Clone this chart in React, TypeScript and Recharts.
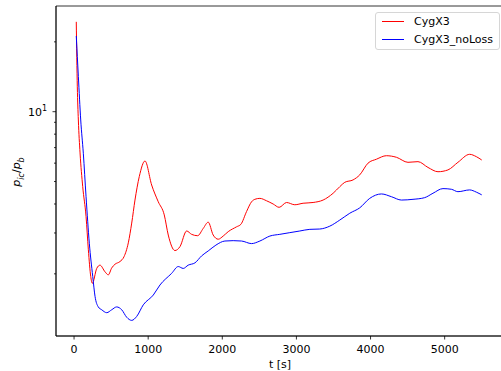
import { LineChart, Line, XAxis, YAxis, ReferenceArea } from "recharts";

// values (t in seconds, p_ic/p_b)
const redT = [30, 44, 58, 81, 117, 162, 193, 225, 247, 306, 350, 418, 462, 508, 553, 620, 674, 732, 778, 822, 880, 957, 1047, 1136, 1217, 1271, 1361, 1429, 1519, 1586, 1667, 1743, 1810, 1877, 1945, 2012, 2080, 2193, 2251, 2327, 2395, 2439, 2507, 2597, 2686, 2767, 2867, 2978, 3090, 3225, 3360, 3495, 3585, 3652, 3764, 3854, 3966, 4080, 4214, 4349, 4505, 4640, 4775, 4910, 5044, 5179, 5337, 5427, 5500];
const redV = [24.4, 12.8, 9.21, 6.64, 4.75, 3.53, 2.54, 1.95, 1.82, 2.11, 2.18, 2.04, 1.98, 2.12, 2.2, 2.26, 2.37, 2.72, 3.31, 4.16, 5.25, 6.13, 4.83, 4.09, 3.59, 2.94, 2.52, 2.62, 3.06, 2.96, 2.92, 3.14, 3.34, 2.94, 2.82, 2.91, 3.04, 3.19, 3.27, 3.71, 4.09, 4.19, 4.23, 4.13, 4.0, 3.87, 4.06, 3.97, 4.03, 4.06, 4.16, 4.45, 4.75, 4.96, 5.08, 5.34, 6.0, 6.24, 6.46, 6.36, 6.05, 6.09, 5.75, 5.51, 5.61, 6.05, 6.55, 6.4, 6.19];

const blueT = [30, 58, 90, 125, 162, 206, 252, 283, 327, 373, 441, 508, 575, 643, 710, 778, 845, 934, 1069, 1159, 1317, 1406, 1473, 1540, 1631, 1721, 1810, 1914, 2035, 2147, 2260, 2395, 2507, 2642, 2776, 2911, 3046, 3181, 3315, 3450, 3585, 3720, 3854, 3989, 4147, 4282, 4416, 4573, 4730, 4842, 4977, 5090, 5179, 5337, 5427, 5500];
const blueV = [21.2, 14.2, 9.21, 6.62, 4.3, 2.71, 1.95, 1.6, 1.44, 1.4, 1.36, 1.4, 1.44, 1.4, 1.3, 1.26, 1.31, 1.47, 1.62, 1.79, 2.01, 2.15, 2.11, 2.18, 2.23, 2.39, 2.51, 2.66, 2.77, 2.78, 2.77, 2.7, 2.77, 2.91, 2.96, 3.01, 3.06, 3.11, 3.12, 3.21, 3.41, 3.65, 3.85, 4.23, 4.42, 4.3, 4.16, 4.19, 4.26, 4.45, 4.66, 4.63, 4.52, 4.6, 4.5, 4.38];

const xTicks = [0, 1000, 2000, 3000, 4000, 5000];
const yTicks = [2, 3, 4, 5, 6, 7, 8, 9, 10, 20];

const FONT = "DejaVu Sans, sans-serif";
const X_DOMAIN = [-243.5, 5773.5];
const Y_DOMAIN = [1.079, 28.55];

const red = redT.map((t, i) => ({ t, v: redV[i] }));
const blue = blueT.map((t, i) => ({ t, v: blueV[i] }));

function LogTick(props: any) {
  const { x, y, payload } = props;
  const major = payload.value === 10;
  const len = major ? 3.5 : 2;
  return (
    <g>
      <line x1={x - len} x2={x} y1={y} y2={y} stroke="#000" strokeWidth={0.8} />
      {major && (
        <text x={x - 9} y={y + 4} textAnchor="end" fontSize={11} fontFamily={FONT} fill="#000">
          10<tspan dy={-5} fontSize={8}>1</tspan>
        </text>
      )}
    </g>
  );
}

export default function App() {
  return (
    <div style={{ position: "fixed", left: 0, top: 0, width: 501, height: 371, overflow: "hidden", background: "#fff" }}>
      <LineChart width={510} height={371} margin={{ top: 6, right: 8, bottom: 0, left: 0 }}>
        <XAxis
          dataKey="t"
          type="number"
          domain={X_DOMAIN}
          ticks={xTicks}
          allowDataOverflow
          height={35}
          tickSize={3.5}
          tickMargin={5.5}
          axisLine={{ stroke: "#000", strokeWidth: 0.8 }}
          tickLine={{ stroke: "#000", strokeWidth: 0.8 }}
          tick={{ fontSize: 11, fontFamily: FONT, fill: "#000" }}
        />
        <YAxis
          dataKey="v"
          type="number"
          scale="log"
          domain={Y_DOMAIN}
          ticks={yTicks}
          allowDataOverflow
          width={56}
          tickSize={0}
          tickMargin={0}
          tickLine={false}
          axisLine={{ stroke: "#000", strokeWidth: 0.8 }}
          tick={<LogTick />}
          interval={0}
        />
        <ReferenceArea
          x1={X_DOMAIN[0]}
          x2={X_DOMAIN[1]}
          y1={Y_DOMAIN[0]}
          y2={Y_DOMAIN[1]}
          fill="none"
          fillOpacity={0}
          stroke="#000"
          strokeWidth={0.8}
          ifOverflow="visible"
        />
        <Line data={red} dataKey="v" type="monotone" stroke="#ff0000" strokeWidth={1} dot={false} isAnimationActive={false} />
        <Line data={blue} dataKey="v" type="monotone" stroke="#0000ff" strokeWidth={1} dot={false} isAnimationActive={false} />
      </LineChart>

      <div style={{ position: "absolute", left: 280, top: 364, transform: "translate(-50%, -50%)", fontFamily: FONT, fontSize: 11, whiteSpace: "nowrap" }}>
        t [s]
      </div>
      <div style={{ position: "absolute", left: 18, top: 172, transform: "translate(-50%, -50%) rotate(-90deg)", fontFamily: FONT, fontSize: 11, whiteSpace: "nowrap" }}>
        <i>p</i>
        <sub style={{ fontSize: 8, fontStyle: "italic" }}>ic</sub>/<i>p</i>
        <sub style={{ fontSize: 8, fontStyle: "italic" }}>b</sub>
      </div>

      <div style={{ position: "absolute", left: 375, top: 12, width: 123, height: 36, border: "1px solid #d6d6d6", borderRadius: 3, background: "#fff", fontFamily: FONT, fontSize: 11 }}>
        {[
          { name: "CygX3", color: "#ff0000", y: 8.5 },
          { name: "CygX3_noLoss", color: "#0000ff", y: 26 },
        ].map((e) => (
          <div key={e.name} style={{ position: "absolute", left: 0, top: e.y - 8, height: 16, display: "flex", alignItems: "center" }}>
            <div style={{ marginLeft: 6, width: 22, height: 1, background: e.color }} />
            <span style={{ marginLeft: 10 }}>{e.name}</span>
          </div>
        ))}
      </div>
    </div>
  );
}
